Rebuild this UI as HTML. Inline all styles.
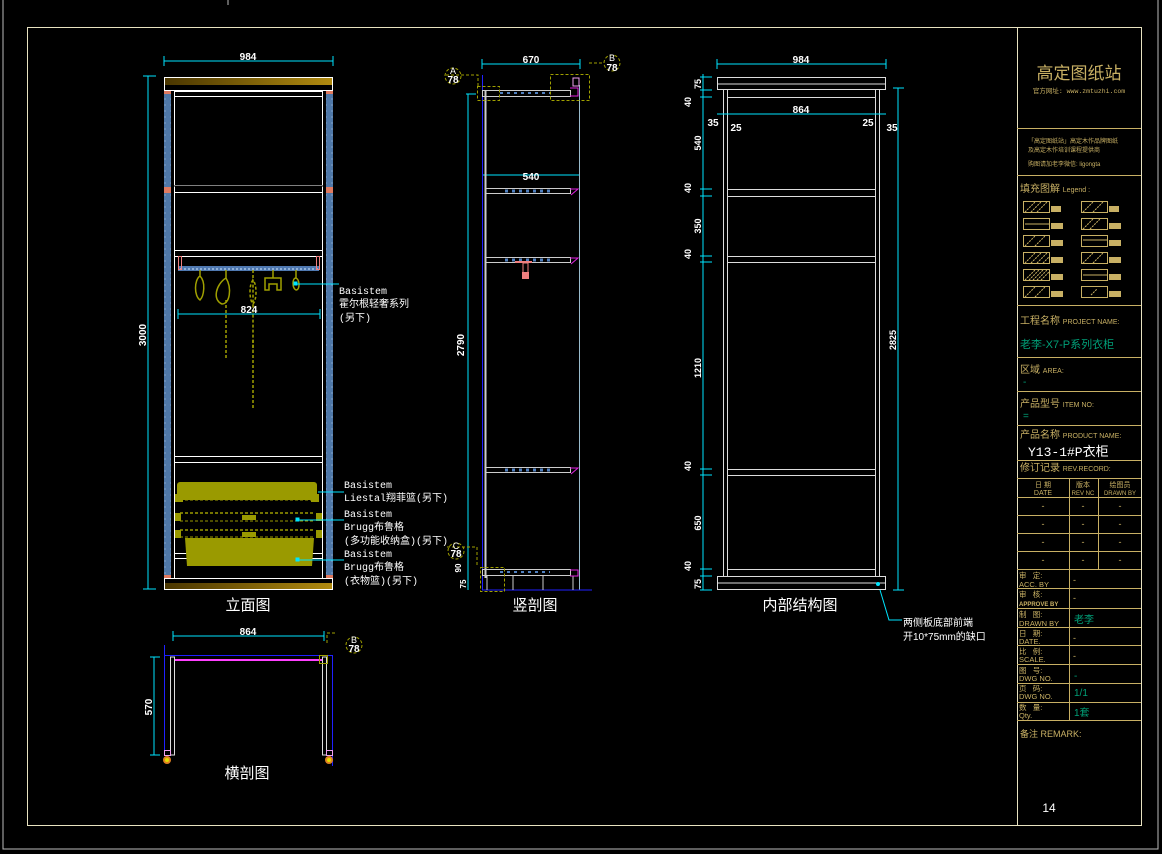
<!DOCTYPE html>
<html><head><meta charset="utf-8"><style>
html,body{margin:0;padding:0;background:#000;}
svg{display:block;}
text{font-family:"Liberation Sans","Noto Sans CJK SC",sans-serif;}
.m{font-family:"Liberation Mono","Noto Sans CJK SC",monospace;}
</style></head><body>
<svg width="1162" height="854" viewBox="0 0 1162 854" xmlns="http://www.w3.org/2000/svg">
<defs>
<linearGradient id="gold" x1="0" x2="1" y1="0" y2="0"><stop offset="0" stop-color="#4a3600"/><stop offset="1" stop-color="#b08a10"/></linearGradient>
<pattern id="bl" width="7" height="6" patternUnits="userSpaceOnUse"><rect width="7" height="6" fill="#4f78a8"/><line x1="2" y1="3" x2="5" y2="3" stroke="#7fa0c8" stroke-width="1"/></pattern>
<pattern id="rail" width="4" height="4" patternUnits="userSpaceOnUse"><rect width="4" height="4" fill="#4f78b0"/><rect width="2" height="2" fill="#8fb0d8"/></pattern>
</defs>
<rect width="1162" height="854" fill="#000"/>
<!-- borders -->
<path d="M3 0 V849 H1158 V0" fill="none" stroke="#bbb" stroke-width="1"/>
<line x1="228" y1="0" x2="228" y2="5" stroke="#bbb"/>
<rect x="27.5" y="27.5" width="1114" height="798" fill="none" stroke="#e8e2c0" stroke-width="1"/>
<line x1="1017.5" y1="27" x2="1017.5" y2="826" stroke="#e8e2c0"/>

<!-- ============ 立面图 ============ -->
<g stroke-width="1" fill="none">
<line x1="164" y1="61" x2="333" y2="61" stroke="#00e5ff"/>
<line x1="164" y1="56" x2="164" y2="66" stroke="#00e5ff"/><line x1="333" y1="56" x2="333" y2="66" stroke="#00e5ff"/>
<line x1="148" y1="76" x2="148" y2="589" stroke="#00e5ff"/>
<line x1="143" y1="76" x2="156" y2="76" stroke="#00e5ff"/><line x1="143" y1="589" x2="156" y2="589" stroke="#00e5ff"/>
<rect x="164.5" y="77.5" width="168" height="13" stroke="#fff"/>
<rect x="165" y="78" width="167" height="7" fill="url(#gold)" stroke="none"/>
<rect x="164.5" y="578.5" width="168" height="11" stroke="#fff"/>
<rect x="165" y="583" width="167" height="6" fill="url(#gold)" stroke="none"/>
<rect x="164" y="91" width="7" height="487" fill="url(#bl)" stroke="none"/>
<rect x="326" y="91" width="7" height="487" fill="url(#bl)" stroke="none"/>
<rect x="164" y="91" width="7" height="3" fill="#e07a60" stroke="none"/><rect x="326" y="91" width="7" height="3" fill="#e07a60" stroke="none"/>
<rect x="164" y="187" width="7" height="6" fill="#e07a60" stroke="none"/><rect x="326" y="187" width="7" height="6" fill="#e07a60" stroke="none"/>
<rect x="164" y="575" width="7" height="3" fill="#e07a60" stroke="none"/><rect x="326" y="575" width="7" height="3" fill="#e07a60" stroke="none"/>
<g stroke="#fff">
<line x1="174.5" y1="91" x2="174.5" y2="578"/><line x1="322.5" y1="91" x2="322.5" y2="578"/>
<line x1="174" y1="91.5" x2="323" y2="91.5"/><line x1="174" y1="96.5" x2="323" y2="96.5"/>
<line x1="174" y1="185.5" x2="323" y2="185.5"/><line x1="174" y1="192.5" x2="323" y2="192.5"/>
<line x1="174" y1="250.5" x2="323" y2="250.5"/><line x1="174" y1="256.5" x2="323" y2="256.5"/>
<line x1="174" y1="456.5" x2="323" y2="456.5"/><line x1="174" y1="462.5" x2="323" y2="462.5"/>
<line x1="174" y1="553.5" x2="323" y2="553.5"/><line x1="174" y1="558.5" x2="323" y2="558.5"/>
</g>
</g>
<!-- real shelf positions per image -->
<g stroke="#fff" fill="none">
<line x1="174" y1="186" x2="323" y2="186" stroke="#000"/>
</g>
<rect x="178" y="266" width="141" height="5" fill="url(#rail)"/>
<rect x="178.5" y="256.5" width="3" height="13" fill="none" stroke="#f08080"/>
<rect x="316.5" y="256.5" width="3" height="13" fill="none" stroke="#f08080"/>
<g stroke="#a0a000" fill="none" stroke-width="1.5">
<path d="M200 270 v6 c-6 4 -6 20 0 24 c4 -4 6 -18 0 -24"/>
<path d="M226 270 v8 c-10 6 -14 22 -4 26 c8 0 10 -16 4 -26"/>
<path d="M226 300 v60" stroke-dasharray="3 2"/>
<path d="M253 270 v10 c-4 4 -4 20 0 24 c4 -4 4 -20 0 -24 v70" stroke-dasharray="3 2"/>
<path d="M253 340 v70" stroke-dasharray="3 2"/>
<path d="M273 270 v8 h-8 v12 h4 v-6 h8 v6 h4 v-12 h-8"/>
<path d="M296 270 v8 c-4 0 -4 10 0 12 c4 0 4 -10 0 -12"/>
</g>
<line x1="178" y1="314" x2="320" y2="314" stroke="#00e5ff"/>
<line x1="178" y1="309" x2="178" y2="319" stroke="#00e5ff"/><line x1="320" y1="309" x2="320" y2="319" stroke="#00e5ff"/>
<text x="249" y="313" fill="#fff" font-size="10" font-weight="bold" text-anchor="middle">824</text>
<text x="248" y="60" fill="#fff" font-size="10" font-weight="bold" text-anchor="middle">984</text>
<text transform="translate(146,335) rotate(-90)" fill="#fff" font-size="10" font-weight="bold" text-anchor="middle">3000</text>
<!-- baskets -->
<rect x="177" y="482" width="140" height="18" rx="3" fill="#9a9a00"/>
<rect x="175" y="494" width="8" height="8" fill="#9a9a00"/><rect x="311" y="494" width="8" height="8" fill="#9a9a00"/>
<line x1="180" y1="500" x2="315" y2="500" stroke="#9a9a00" stroke-dasharray="3 2"/>
<line x1="180" y1="513" x2="315" y2="513" stroke="#9a9a00" stroke-width="1.5" stroke-dasharray="3 2"/>
<line x1="180" y1="521" x2="315" y2="521" stroke="#9a9a00" stroke-dasharray="3 2"/>
<line x1="180" y1="530" x2="315" y2="530" stroke="#9a9a00" stroke-width="1.5" stroke-dasharray="3 2"/>
<line x1="180" y1="537" x2="315" y2="537" stroke="#9a9a00" stroke-dasharray="3 2"/>
<rect x="175" y="513" width="6" height="8" fill="#9a9a00"/><rect x="316" y="513" width="6" height="8" fill="#9a9a00"/>
<rect x="175" y="530" width="6" height="8" fill="#9a9a00"/><rect x="316" y="530" width="6" height="8" fill="#9a9a00"/>
<rect x="242" y="515" width="14" height="5" fill="#9a9a00"/><rect x="242" y="532" width="14" height="5" fill="#9a9a00"/>
<path d="M185 538 h129 l-2 28 h-125 z" fill="#9a9a00"/>
<g stroke="#00e5ff">
<line x1="296" y1="284" x2="339" y2="284"/><rect x="294" y="282" width="3" height="3" fill="#00e5ff"/>
<line x1="318" y1="492" x2="344" y2="492"/>
<line x1="297" y1="520" x2="344" y2="520"/><rect x="296" y="518" width="3" height="3" fill="#00e5ff"/>
<line x1="297" y1="560" x2="344" y2="560"/><rect x="296" y="558" width="3" height="3" fill="#00e5ff"/>
</g>
<g fill="#fff" font-size="10" class="m">
<text x="339" y="294" class="m">Basistem</text>
<text x="339" y="307" class="m">霍尔根轻奢系列</text>
<text x="339" y="321" class="m">(另下)</text>
<text x="344" y="488" class="m">Basistem</text>
<text x="344" y="501" class="m">Liestal翔菲篮(另下)</text>
<text x="344" y="517" class="m">Basistem</text>
<text x="344" y="530" class="m">Brugg布鲁格</text>
<text x="344" y="544" class="m">(多功能收纳盒)(另下)</text>
<text x="344" y="557" class="m">Basistem</text>
<text x="344" y="570" class="m">Brugg布鲁格</text>
<text x="344" y="584" class="m">(衣物篮)(另下)</text>
</g>
<text x="248" y="610" fill="#fff" font-size="15" text-anchor="middle">立面图</text>

<!-- ============ 竖剖图 ============ -->
<g fill="none">
<line x1="482" y1="64" x2="580" y2="64" stroke="#00e5ff"/>
<line x1="482" y1="59" x2="482" y2="69" stroke="#00e5ff"/><line x1="580" y1="59" x2="580" y2="69" stroke="#00e5ff"/>
<line x1="468" y1="94" x2="468" y2="590" stroke="#00e5ff"/>
<line x1="466" y1="94" x2="476" y2="94" stroke="#00e5ff"/>
<line x1="483" y1="175" x2="579" y2="175" stroke="#00e5ff"/>
<line x1="482.5" y1="75" x2="482.5" y2="590" stroke="#2020ff"/>
<line x1="485.5" y1="90" x2="485.5" y2="578" stroke="#ccc" stroke-width="2"/>
<line x1="579.5" y1="85" x2="579.5" y2="590" stroke="#9bc"/>
<line x1="482" y1="590" x2="592" y2="590" stroke="#2020ff"/>
<g stroke="#ccc">
<rect x="482.5" y="90.5" width="88" height="6"/>
<rect x="485.5" y="188.5" width="85" height="5"/>
<rect x="485.5" y="257.5" width="85" height="5"/>
<rect x="485.5" y="467.5" width="85" height="5"/>
<rect x="482.5" y="569.5" width="88" height="6"/>
<line x1="487" y1="576" x2="487" y2="590"/><line x1="513" y1="576" x2="513" y2="590"/><line x1="543" y1="576" x2="543" y2="590"/><line x1="573" y1="576" x2="573" y2="590"/>
</g>
<g stroke="#e020e0">
<path d="M570 88 h8 v8 h-8"/><path d="M570 189 h8 l-7 6"/><path d="M570 258 h8 l-7 6"/><path d="M570 468 h8 l-7 6"/><path d="M570 570 h8 v6 h-8"/>
</g>
<g stroke="#5080c0"><line x1="505" y1="191" x2="550" y2="191" stroke-dasharray="3 4" stroke-width="3"/><line x1="505" y1="260" x2="550" y2="260" stroke-dasharray="3 4" stroke-width="3"/><line x1="505" y1="470" x2="550" y2="470" stroke-dasharray="3 4" stroke-width="3"/><line x1="500" y1="93" x2="550" y2="93" stroke-dasharray="3 4" stroke-width="2"/><line x1="500" y1="572" x2="550" y2="572" stroke-dasharray="3 4" stroke-width="2"/></g>
<g stroke="#a0a000" stroke-dasharray="3 2">
<rect x="477.5" y="86.5" width="22" height="14"/><rect x="550.5" y="74.5" width="39" height="26"/>
<rect x="480.5" y="567.5" width="24" height="24"/>
<path d="M446 75 h32 v12"/><path d="M589 63 h14"/><path d="M447 547 h30 v20"/>
<circle cx="453" cy="76" r="8"/><circle cx="612" cy="63" r="8"/><circle cx="456" cy="551" r="8"/>
</g>
<rect x="515" y="261" width="17" height="2" fill="#f08080"/><rect x="523" y="263" width="5" height="10" fill="none" stroke="#f08080"/><rect x="522" y="272" width="7" height="7" fill="#f08080"/>
<rect x="573" y="78" width="6" height="8" fill="none" stroke="#f0a0f0"/>
</g>
<g fill="#fff" font-size="10" font-weight="bold">
<text x="531" y="63" text-anchor="middle">670</text>
<text x="531" y="180" text-anchor="middle">540</text>
<text transform="translate(464,345) rotate(-90)" text-anchor="middle">2790</text>
<text x="453" y="74" text-anchor="middle" font-weight="normal" font-size="9">A</text><text x="453" y="83" text-anchor="middle">78</text>
<text x="612" y="61" text-anchor="middle" font-weight="normal" font-size="9">B</text><text x="612" y="71" text-anchor="middle">78</text>
<text x="456" y="549" text-anchor="middle" font-weight="normal" font-size="9">C</text><text x="456" y="557" text-anchor="middle">78</text>
<text transform="translate(461,568) rotate(-90)" text-anchor="middle" font-size="8">90</text>
<text transform="translate(466,584) rotate(-90)" text-anchor="middle" font-size="8">75</text>
</g>
<text x="535" y="610" fill="#fff" font-size="15" text-anchor="middle">竖剖图</text>

<!-- ============ 内部结构图 ============ -->
<g fill="none" stroke="#ddd">
<rect x="717.5" y="77.5" width="168" height="12"/><line x1="717" y1="84" x2="886" y2="84"/>
<rect x="717.5" y="576.5" width="168" height="13"/><line x1="717" y1="583" x2="886" y2="583"/>
<line x1="723.5" y1="90" x2="723.5" y2="576"/><line x1="727.5" y1="90" x2="727.5" y2="576"/>
<line x1="875.5" y1="90" x2="875.5" y2="576"/><line x1="879.5" y1="90" x2="879.5" y2="576"/>
<line x1="727" y1="97.5" x2="876" y2="97.5"/>
<line x1="727" y1="189.5" x2="876" y2="189.5"/><line x1="727" y1="196.5" x2="876" y2="196.5"/>
<line x1="727" y1="256.5" x2="876" y2="256.5"/><line x1="727" y1="262.5" x2="876" y2="262.5"/>
<line x1="727" y1="469.5" x2="876" y2="469.5"/><line x1="727" y1="475.5" x2="876" y2="475.5"/>
<line x1="727" y1="569.5" x2="876" y2="569.5"/>
</g>
<g stroke="#00e5ff" fill="none">
<line x1="717" y1="64" x2="886" y2="64"/><line x1="717" y1="59" x2="717" y2="69"/><line x1="886" y1="59" x2="886" y2="69"/>
<line x1="717" y1="114" x2="886" y2="114"/>
<line x1="703" y1="74" x2="703" y2="590"/>
<line x1="898" y1="88" x2="898" y2="590"/><line x1="893" y1="88" x2="904" y2="88"/><line x1="893" y1="590" x2="904" y2="590"/>
<g><line x1="700" y1="77" x2="712" y2="77"/><line x1="700" y1="90" x2="712" y2="90"/><line x1="700" y1="97" x2="712" y2="97"/><line x1="700" y1="189" x2="712" y2="189"/><line x1="700" y1="196" x2="712" y2="196"/><line x1="700" y1="256" x2="712" y2="256"/><line x1="700" y1="262" x2="712" y2="262"/><line x1="700" y1="469" x2="712" y2="469"/><line x1="700" y1="475" x2="712" y2="475"/><line x1="700" y1="569" x2="712" y2="569"/><line x1="700" y1="576" x2="712" y2="576"/><line x1="700" y1="590" x2="712" y2="590"/></g>
<path d="M880 590 L889 620 H902"/>
</g>
<circle cx="878" cy="584" r="2" fill="#00e5ff"/>
<g fill="#fff" font-size="10" font-weight="bold">
<text x="801" y="63" text-anchor="middle">984</text>
<text x="801" y="113" text-anchor="middle">864</text>
<text x="713" y="126" text-anchor="middle">35</text><text x="736" y="131" text-anchor="middle">25</text>
<text x="868" y="126" text-anchor="middle">25</text><text x="892" y="131" text-anchor="middle">35</text>
<g font-size="9">
<text transform="translate(701,84) rotate(-90)" text-anchor="middle">75</text>
<text transform="translate(691,102) rotate(-90)" text-anchor="middle">40</text>
<text transform="translate(701,143) rotate(-90)" text-anchor="middle">540</text>
<text transform="translate(691,188) rotate(-90)" text-anchor="middle">40</text>
<text transform="translate(701,226) rotate(-90)" text-anchor="middle">350</text>
<text transform="translate(691,254) rotate(-90)" text-anchor="middle">40</text>
<text transform="translate(701,368) rotate(-90)" text-anchor="middle">1210</text>
<text transform="translate(691,466) rotate(-90)" text-anchor="middle">40</text>
<text transform="translate(701,523) rotate(-90)" text-anchor="middle">650</text>
<text transform="translate(691,566) rotate(-90)" text-anchor="middle">40</text>
<text transform="translate(701,584) rotate(-90)" text-anchor="middle">75</text>
<text transform="translate(896,340) rotate(-90)" text-anchor="middle">2825</text>
</g>
</g>
<text x="800" y="610" fill="#fff" font-size="15" text-anchor="middle">内部结构图</text>
<text x="903" y="626" fill="#fff" font-size="10">两侧板底部前端</text>
<text x="903" y="640" fill="#fff" font-size="10">开10*75mm的缺口</text>

<!-- ============ 横剖图 ============ -->
<g fill="none">
<line x1="173" y1="636" x2="324" y2="636" stroke="#00e5ff"/><line x1="173" y1="631" x2="173" y2="641" stroke="#00e5ff"/><line x1="324" y1="631" x2="324" y2="641" stroke="#00e5ff"/>
<line x1="154" y1="657" x2="154" y2="755" stroke="#00e5ff"/><line x1="150" y1="657" x2="160" y2="657" stroke="#00e5ff"/><line x1="150" y1="755" x2="160" y2="755" stroke="#00e5ff"/>
<path d="M164.5 645 V755 M164 655.5 H332.5 V766" stroke="#2020ff"/>
<line x1="175" y1="660" x2="322" y2="660" stroke="#ff40ff" stroke-width="2"/>
<path d="M170.5 755 V657 H174.5 V755 Z M322.5 755 V657 H326.5 V755 Z" stroke="#ddd"/>
<rect x="319.5" y="655.5" width="8" height="8" stroke="#a0a000"/>
<path d="M327 643 v-10 h10" stroke="#a0a000" stroke-dasharray="3 2"/>
<circle cx="354" cy="645" r="8" stroke="#a0a000" stroke-dasharray="3 2"/>
<rect x="164.5" y="750.5" width="6" height="5" stroke="#f0a0f0"/><rect x="326.5" y="750.5" width="6" height="5" stroke="#f0a0f0"/>
</g>
<circle cx="167" cy="760" r="4" fill="#e08020"/><circle cx="329" cy="760" r="4" fill="#e08020"/>
<circle cx="167" cy="760" r="2" fill="#e0e000"/><circle cx="329" cy="760" r="2" fill="#e0e000"/>
<g fill="#fff" font-size="10" font-weight="bold">
<text x="248" y="635" text-anchor="middle">864</text>
<text transform="translate(152,707) rotate(-90)" text-anchor="middle">570</text>
<text x="354" y="643" text-anchor="middle" font-weight="normal" font-size="9">B</text><text x="354" y="652" text-anchor="middle">78</text>
</g>
<text x="247" y="778" fill="#fff" font-size="15" text-anchor="middle">横剖图</text>

<!-- ============ 标题栏 ============ -->
<g stroke="#c8b064" fill="none">
<line x1="1017" y1="128.5" x2="1141" y2="128.5"/>
<line x1="1017" y1="175.5" x2="1141" y2="175.5"/>
<line x1="1017" y1="305.5" x2="1141" y2="305.5"/>
<line x1="1017" y1="357.5" x2="1141" y2="357.5"/>
<line x1="1017" y1="391.5" x2="1141" y2="391.5"/>
<line x1="1017" y1="425.5" x2="1141" y2="425.5"/>
<line x1="1017" y1="460.5" x2="1141" y2="460.5"/>
<line x1="1017" y1="478.5" x2="1141" y2="478.5"/>
<line x1="1017" y1="497.5" x2="1141" y2="497.5"/>
<line x1="1017" y1="515.5" x2="1141" y2="515.5"/>
<line x1="1017" y1="533.5" x2="1141" y2="533.5"/>
<line x1="1017" y1="551.5" x2="1141" y2="551.5"/>
<line x1="1017" y1="569.5" x2="1141" y2="569.5"/>
<line x1="1017" y1="588.5" x2="1141" y2="588.5"/>
<line x1="1017" y1="608.5" x2="1141" y2="608.5"/>
<line x1="1017" y1="627.5" x2="1141" y2="627.5"/>
<line x1="1017" y1="645.5" x2="1141" y2="645.5"/>
<line x1="1017" y1="664.5" x2="1141" y2="664.5"/>
<line x1="1017" y1="683.5" x2="1141" y2="683.5"/>
<line x1="1017" y1="702.5" x2="1141" y2="702.5"/>
<line x1="1017" y1="720.5" x2="1141" y2="720.5"/>
<line x1="1069.5" y1="478" x2="1069.5" y2="720"/>
<line x1="1098.5" y1="478" x2="1098.5" y2="569"/>
</g>
<g fill="#c8b064">
<text x="1079" y="79" font-size="17" text-anchor="middle" font-family="Noto Serif CJK SC,serif">高定图纸站</text>
<text x="1079" y="93" font-size="6.5" text-anchor="middle" class="m">官方网址: www.zmtuzhi.com</text>
<text x="1028" y="143" font-size="6">「高定图纸站」高定木作品牌图纸</text>
<text x="1028" y="152" font-size="6">及高定木作培训课程提供商</text>
<text x="1028" y="166" font-size="6">购图请加老李微信: ligongta</text>
<text x="1020" y="192" font-size="10">填充图解 <tspan font-size="7">Legend :</tspan></text>
<text x="1020" y="324" font-size="10">工程名称 <tspan font-size="7">PROJECT NAME:</tspan></text>
<text x="1020" y="373" font-size="10">区域 <tspan font-size="7">AREA:</tspan></text>
<text x="1020" y="407" font-size="10">产品型号 <tspan font-size="7">ITEM NO:</tspan></text>
<text x="1020" y="438" font-size="10">产品名称 <tspan font-size="7">PRODUCT NAME:</tspan></text>
<text x="1020" y="471" font-size="10">修订记录 <tspan font-size="7">REV.RECORD:</tspan></text>
<g font-size="7" text-anchor="middle">
<text x="1043" y="487">日 期</text><text x="1043" y="495">DATE</text>
<text x="1083" y="487">版本</text><text x="1083" y="495" font-size="6">REV NC</text>
<text x="1120" y="487">绘图员</text><text x="1120" y="495" font-size="6">DRAWN BY</text>
</g>
<g font-size="9" text-anchor="middle">
<text x="1043" y="509">-</text><text x="1083" y="509">-</text><text x="1120" y="509">-</text>
<text x="1043" y="527">-</text><text x="1083" y="527">-</text><text x="1120" y="527">-</text>
<text x="1043" y="545">-</text><text x="1083" y="545">-</text><text x="1120" y="545">-</text>
<text x="1043" y="563">-</text><text x="1083" y="563">-</text><text x="1120" y="563">-</text>
</g>
<g font-size="7.5">
<text x="1019" y="578">审 &#160; 定:</text><text x="1019" y="587">ACC. BY</text>
<text x="1019" y="597">审 &#160; 核:</text><text x="1019" y="606" font-size="6" font-weight="bold">APPROVE BY</text>
<text x="1019" y="617">制 &#160; 图:</text><text x="1019" y="626">DRAWN BY</text>
<text x="1019" y="636">日 &#160; 期:</text><text x="1019" y="644">DATE.</text>
<text x="1019" y="654">比 &#160; 例:</text><text x="1019" y="662">SCALE.</text>
<text x="1019" y="673">图 &#160; 号:</text><text x="1019" y="681">DWG NO.</text>
<text x="1019" y="691">页 &#160; 码:</text><text x="1019" y="699">DWG NO.</text>
<text x="1019" y="710">数 &#160; 量:</text><text x="1019" y="718">Qty.</text>
</g>
<g font-size="9"><text x="1073" y="583">-</text><text x="1073" y="601">-</text><text x="1073" y="641">-</text><text x="1073" y="659">-</text></g>
<text x="1020" y="737" font-size="9">备注 REMARK:</text>
</g>
<!-- legend swatches -->
<g stroke="#c8b064" fill="none">
<rect x="1023.5" y="201.5" width="26" height="11"/><rect x="1081.5" y="201.5" width="26" height="11"/>
<rect x="1023.5" y="218.5" width="26" height="11"/><rect x="1081.5" y="218.5" width="26" height="11"/>
<rect x="1023.5" y="235.5" width="26" height="11"/><rect x="1081.5" y="235.5" width="26" height="11"/>
<rect x="1023.5" y="252.5" width="26" height="11"/><rect x="1081.5" y="252.5" width="26" height="11"/>
<rect x="1023.5" y="269.5" width="26" height="11"/><rect x="1081.5" y="269.5" width="26" height="11"/>
<rect x="1023.5" y="286.5" width="26" height="11"/><rect x="1081.5" y="286.5" width="26" height="11"/>
<path d="M1025 212 l10 -10 M1031 212 l10 -10 M1037 212 l10 -10 M1083 212 l10 -10 M1093 212 l10 -10 M1025 246 l10 -10 M1035 246 l10 -10 M1025 263 l10 -10 M1031 263 l10 -10 M1037 263 l10 -10 M1043 263 l6 -6 M1025 280 l10 -10 M1029 280 l10 -10 M1033 280 l10 -10 M1037 280 l10 -10 M1041 280 l8 -8 M1083 229 l10 -10 M1090 229 l10 -10 M1083 263 l10 -10 M1093 263 l10 -10 M1025 297 l10 -10 M1035 297 l10 -10 M1091 295 l6 -6" stroke-dasharray="2 1"/>
<path d="M1025 224 h24 M1083 240 h24 M1083 275 h24 M1083 292 h0"/>
</g>
<g fill="#c8b064">
<rect x="1051" y="206" width="10" height="6"/><rect x="1109" y="206" width="10" height="6"/>
<rect x="1051" y="223" width="12" height="6"/><rect x="1109" y="223" width="12" height="6"/>
<rect x="1051" y="240" width="12" height="6"/><rect x="1109" y="240" width="12" height="6"/>
<rect x="1051" y="257" width="12" height="6"/><rect x="1109" y="257" width="12" height="6"/>
<rect x="1051" y="274" width="12" height="6"/><rect x="1109" y="274" width="12" height="6"/>
<rect x="1051" y="291" width="12" height="6"/><rect x="1109" y="291" width="12" height="6"/>
</g>
<g fill="#00a078">
<text x="1020" y="348" font-size="11" font-family="Noto Serif CJK SC,serif">老李-X7-P系列衣柜</text>
<text x="1023" y="385" font-size="10">-</text>
<text x="1023" y="419" font-size="10">=</text>
<text x="1074" y="623" font-size="10" font-family="Noto Serif CJK SC,serif">老李</text>
<text x="1074" y="679" font-size="10">-</text>
<text x="1074" y="696" font-size="10">1/1</text>
<text x="1074" y="716" font-size="10">1套</text>
</g>
<text x="1028" y="456" fill="#fff" font-size="13" class="m">Y13-1#P衣柜</text>
<text x="1049" y="812" fill="#fff" font-size="12" text-anchor="middle">14</text>
</svg>
</body></html>
